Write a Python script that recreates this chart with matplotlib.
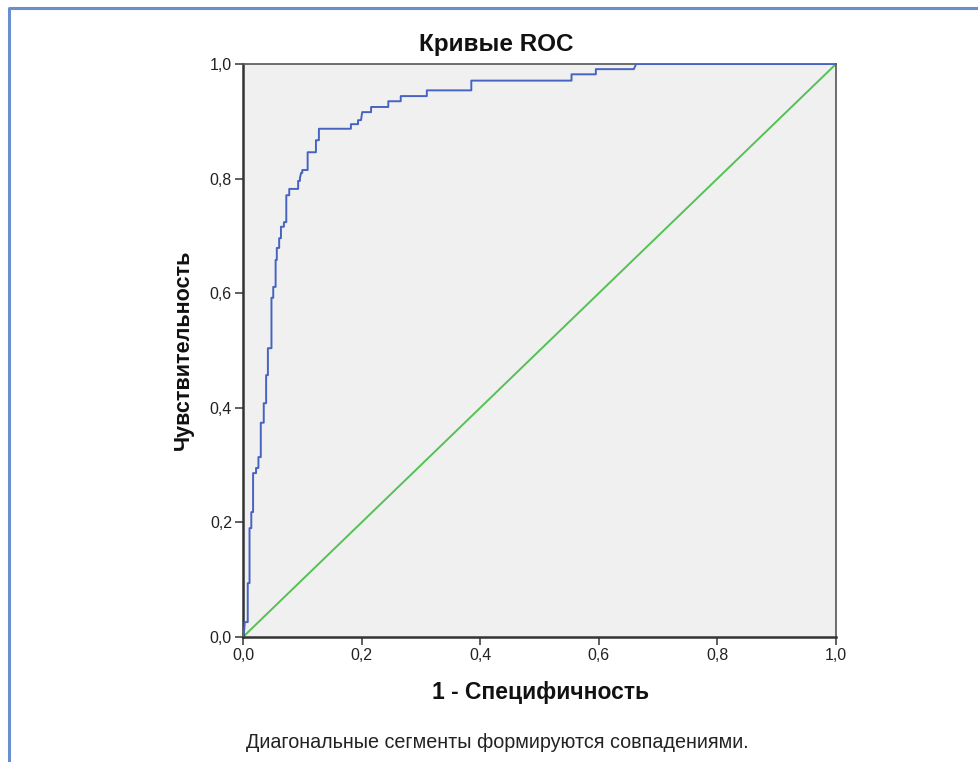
import matplotlib
matplotlib.use("Agg")
import matplotlib.pyplot as plt
from matplotlib.lines import Line2D
import matplotlib.ticker as ticker

# ROC curve vertices (1 - specificity, sensitivity)
fpr = [0.000, 0.002, 0.003, 0.008, 0.008, 0.011, 0.011, 0.014, 0.014, 0.017,
       0.017, 0.022, 0.022, 0.026, 0.026, 0.030, 0.030, 0.035, 0.035, 0.039,
       0.039, 0.042, 0.042, 0.048, 0.048, 0.051, 0.051, 0.055, 0.055, 0.057,
       0.057, 0.061, 0.061, 0.064, 0.064, 0.069, 0.069, 0.073, 0.073, 0.078,
       0.078, 0.093, 0.093, 0.096, 0.096, 0.098, 0.100, 0.100, 0.109, 0.109,
       0.123, 0.123, 0.128, 0.128, 0.182, 0.182, 0.194, 0.194, 0.199, 0.201,
       0.216, 0.216, 0.245, 0.245, 0.266, 0.266, 0.310, 0.310, 0.385, 0.385,
       0.554, 0.554, 0.595, 0.595, 0.659, 0.663, 1.000]
tpr = [0.000, 0.012, 0.026, 0.026, 0.094, 0.094, 0.190, 0.190, 0.218, 0.218,
       0.286, 0.286, 0.295, 0.295, 0.314, 0.314, 0.374, 0.374, 0.408, 0.408,
       0.457, 0.457, 0.504, 0.504, 0.592, 0.592, 0.611, 0.611, 0.658, 0.658,
       0.679, 0.679, 0.696, 0.696, 0.716, 0.716, 0.724, 0.724, 0.771, 0.771,
       0.782, 0.782, 0.796, 0.796, 0.801, 0.810, 0.810, 0.815, 0.815, 0.846,
       0.846, 0.867, 0.867, 0.887, 0.887, 0.895, 0.895, 0.902, 0.902, 0.916,
       0.916, 0.925, 0.925, 0.935, 0.935, 0.944, 0.944, 0.954, 0.954, 0.971,
       0.971, 0.982, 0.982, 0.991, 0.991, 1.000, 1.000]

ref_line = [0.0, 1.0]
ticks = [0.0, 0.2, 0.4, 0.6, 0.8, 1.0]

title = "Кривые ROC"
xlabel = "1 - Специфичность"
ylabel = "Чувствительность"
caption = "Диагональные сегменты формируются совпадениями."

plt.rcParams["font.family"] = ["Liberation Sans", "DejaVu Sans"]

W, H = 979, 762
fig = plt.figure(figsize=(W / 100, H / 100), dpi=100)
fig.patch.set_facecolor("white")

ax = fig.add_axes([243 / W, 1 - 637 / H, (836 - 243) / W, (637 - 64) / H])
ax.set_facecolor("#f0f0f0")

ax.plot(ref_line, ref_line, color="#55c155", linewidth=1.4, zorder=2)
ax.plot(fpr, tpr, color="#4763c2", linewidth=1.4, zorder=3)

ax.set_xlim(0, 1)
ax.set_ylim(0, 1)
ax.set_xticks(ticks)
ax.set_yticks(ticks)
fmt = ticker.FuncFormatter(lambda v, _: f"{v:.1f}".replace(".", ","))
ax.xaxis.set_major_formatter(fmt)
ax.yaxis.set_major_formatter(fmt)
ax.tick_params(axis="both", direction="out", length=6, width=1.2,
               color="#444444", labelsize=11.5, labelcolor="#222222", pad=2)

for spine in ax.spines.values():
    spine.set_color("#555555")
    spine.set_linewidth(1.2)
ax.spines["left"].set_linewidth(1.8)
ax.spines["bottom"].set_linewidth(1.8)
ax.spines["left"].set_color("#333333")
ax.spines["bottom"].set_color("#333333")

fig.text(496 / W, 1 - 44 / H, title, ha="center", va="center",
         fontsize=17.5, fontweight="bold", color="#111111")
fig.text(541 / W, 1 - 692 / H, xlabel, ha="center", va="center",
         fontsize=16.5, fontweight="bold", color="#111111")
fig.text(183 / W, 1 - 350 / H, ylabel, ha="center", va="center",
         rotation=90, fontsize=15.5, fontweight="bold", color="#111111")
fig.text(497 / W, 1 - 742 / H, caption, ha="center", va="center",
         fontsize=14.2, color="#222222")

# blue frame on the left and top edges
frame = Line2D([9 / W, 9 / W, 1.0], [0.0, 1 - 8 / H, 1 - 8 / H],
               transform=fig.transFigure, color="#6a8fcc", linewidth=2.2)
fig.add_artist(frame)

fig.savefig("out.png", dpi=100, facecolor="white")
